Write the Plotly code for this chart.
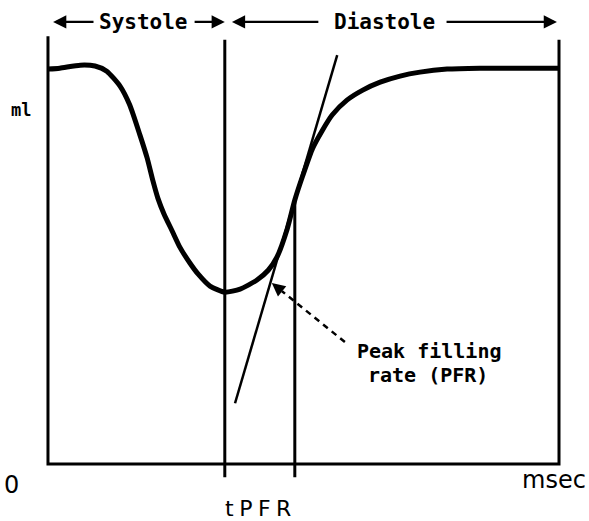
import plotly.graph_objects as go

# volume curve (time in msec, volume in ml; arbitrary scale)
time_ms = [0, 23, 63, 92, 115, 141, 160, 180, 194, 205, 215, 227, 243, 258, 278, 294,
           317, 346, 376, 409, 431, 448, 468, 483, 499, 518, 536, 556, 585, 616, 650,
           689, 728, 781, 845, 923, 1000]
volume_ml = [129.8, 130.1, 131.1, 130.8, 129.1, 124.2, 118.0, 108.1, 100.6, 93.3, 87.4,
             82.2, 76.6, 71.3, 66.0, 62.4, 58.5, 56.5, 57.5, 60.5, 63.7, 68.0, 77.2, 86.8,
             95.0, 103.8, 109.4, 114.7, 119.6, 122.9, 125.5, 127.5, 128.8, 129.8, 130.1,
             130.1, 130.1]

end_systole_ms = 346
t_pfr_ms = 483
t_pfr_ml = 86.8
tangent_ms = [366, 566]
tangent_ml = [20.0, 134.4]

x_max = 1000
y_top = 140
header_y = 145.3

BLACK = "#000000"
MONO = "DejaVu Sans Mono"
SANS = "DejaVu Sans"

fig = go.Figure()

# frame: left, bottom, right
fig.add_trace(go.Scatter(x=[0, 0, x_max, x_max], y=[y_top + 0.6, 0, 0, y_top - 0.6], mode="lines",
                         line=dict(color=BLACK, width=3), hoverinfo="skip"))

# systole / diastole divider and tPFR line
fig.add_trace(go.Scatter(x=[end_systole_ms, end_systole_ms], y=[y_top - 0.6, -4.3], mode="lines",
                         line=dict(color=BLACK, width=3), hoverinfo="skip"))
fig.add_trace(go.Scatter(x=[t_pfr_ms, t_pfr_ms], y=[t_pfr_ml, -4.3], mode="lines",
                         line=dict(color=BLACK, width=3), hoverinfo="skip"))

# tangent at peak filling rate
fig.add_trace(go.Scatter(x=tangent_ms, y=tangent_ml, mode="lines",
                         line=dict(color=BLACK, width=2.5), hoverinfo="skip"))

# volume curve
fig.add_trace(go.Scatter(x=time_ms, y=volume_ml, mode="lines",
                         line=dict(color=BLACK, width=5, shape="spline", smoothing=0.6),
                         hoverinfo="skip"))

# dashed leader for PFR label
fig.add_trace(go.Scatter(x=[581, 458], y=[40.1, 56.8], mode="lines",
                         line=dict(color=BLACK, width=2.5, dash="6px,5px"), hoverinfo="skip"))

arrow = dict(showarrow=True, arrowhead=2, arrowsize=1.1, arrowwidth=2.4, arrowcolor=BLACK,
             axref="x", ayref="y", xref="x", yref="y", text="", standoff=0)
fig.add_annotation(x=438, y=59.5, ax=458, ay=56.8, **arrow)
# header arrows
fig.add_annotation(x=10, y=header_y, ax=92, ay=header_y, **arrow)
fig.add_annotation(x=346, y=header_y, ax=284, ay=header_y, **arrow)
fig.add_annotation(x=360, y=header_y, ax=532, ay=header_y, **arrow)
fig.add_annotation(x=996, y=header_y, ax=777, ay=header_y, **arrow)

label = dict(showarrow=False, xref="x", yref="y", font=dict(family=MONO, size=21, color=BLACK))
fig.add_annotation(x=187, y=header_y, text="<b>Systole</b>", **label)
fig.add_annotation(x=659, y=header_y, text="<b>Diastole</b>", **label)
label["font"] = dict(family=MONO, size=20, color=BLACK)
fig.add_annotation(x=746, y=37.3, text="<b>Peak filling</b>", **label)
fig.add_annotation(x=744, y=29.4, text="<b>rate (PFR)</b>", **label)
fig.add_annotation(x=-53, y=116.5, text="<b>ml</b>",
                   showarrow=False, xref="x", yref="y", font=dict(family=MONO, size=17, color=BLACK))

axis_label = dict(showarrow=False, xref="x", yref="y", font=dict(family=SANS, size=24, color=BLACK))
fig.add_annotation(x=-72, y=-6.9, text="0", **axis_label)
fig.add_annotation(x=990, y=-5.3, text="msec", **axis_label)
fig.add_annotation(x=411, y=-14.5, text="t\u2005P\u2005F\u2005R",
                   showarrow=False, xref="x", yref="y", font=dict(family=SANS, size=22, color=BLACK))

# axes span the whole figure so every label can sit in data coordinates
fig.update_layout(
    width=589, height=521, showlegend=False,
    margin=dict(l=0, r=0, t=0, b=0),
    plot_bgcolor="#ffffff", paper_bgcolor="#ffffff",
    xaxis=dict(range=[-93.9, 1058.7], visible=False, fixedrange=True),
    yaxis=dict(range=[-18.7, 152.5], visible=False, fixedrange=True),
)

fig.write_html("out.html", config=dict(displayModeBar=False),
               post_script="document.body.style.margin='0';")
